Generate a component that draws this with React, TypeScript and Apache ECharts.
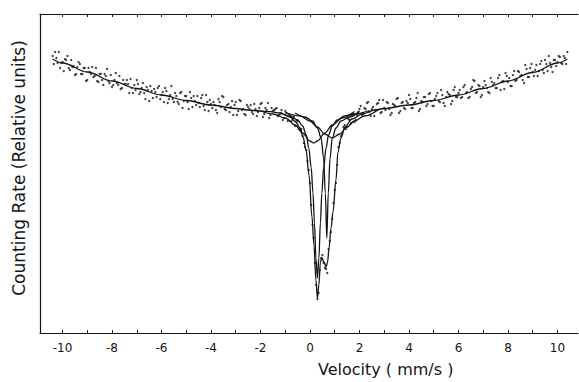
import React, { useEffect, useRef } from "react";
import * as echarts from "echarts";

// Measured counts (relative units). Set A: channels from -10.4 mm/s, set B: from -10.35 mm/s, both in 0.1 mm/s steps
const channelStep = 0.1;
const channelStartA = -10.4;
const countsMeasuredA: number[] = [
  277, 281, 270, 265, 271, 274, 277, 263, 266, 258,
  266, 269, 259, 265, 253, 261, 266, 257, 252, 259,
  253, 259, 264, 250, 246, 253, 250, 257, 245, 249,
  253, 240, 245, 248, 253, 239, 245, 240, 246, 232,
  242, 244, 236, 247, 238, 231, 242, 234, 247, 231,
  237, 229, 241, 232, 237, 224, 235, 237, 228, 230,
  235, 227, 238, 222, 229, 231, 223, 234, 226, 236,
  223, 229, 226, 218, 231, 222, 232, 224, 218, 226,
  228, 219, 224, 221, 229, 216, 225, 230, 218, 222,
  224, 217, 219, 213, 222, 212, 217, 214, 207, 212,
  203, 197, 186, 172, 150, 108, 70, 34, 63, 78,
  65, 60, 92, 114, 143, 168, 190, 199, 208, 206,
  213, 217, 211, 218, 224,
  218, 225, 230, 221, 224, 217, 229, 233, 221, 225,
  231, 224, 220, 228, 234, 220, 230, 225, 232, 238,
  225, 230, 235, 222, 232, 236, 227, 239, 232, 227,
  237, 232, 243, 230, 236, 239, 229, 243, 236, 240,
  235, 246, 240, 235, 244, 253, 240, 248, 236, 246,
  248, 241, 255, 248, 245, 255, 243, 252, 260, 251,
  247, 258, 252, 262, 257, 253, 268, 256, 265, 261,
  263, 257, 269, 263, 273, 262, 270, 261, 273, 271,
  276, 269, 275, 281,
];
const channelStartB = -10.35;
const countsMeasuredB: number[] = [
  269, 275, 281, 270, 262, 273, 265, 273, 267, 259,
  271, 259, 265, 252, 265, 259, 256, 265, 251, 259,
  248, 257, 252, 258, 248, 260, 248, 244, 253, 249,
  249, 254, 240, 243, 249, 241, 250, 234, 243, 247,
  235, 241, 245, 234, 241, 245, 230, 238, 234, 240,
  231, 240, 225, 237, 231, 241, 226, 232, 237, 226,
  238, 223, 231, 233, 225, 228, 220, 231, 237, 224,
  228, 221, 232, 228, 218, 233, 223, 219, 228, 224,
  221, 229, 217, 225, 230, 219, 223, 215, 225, 223,
  225, 218, 223, 215, 220, 219, 212, 216, 213, 204,
  204, 190, 183, 163, 128, 95, 48, 40, 75, 70,
  64, 84, 101, 130, 150, 186, 197, 206, 204, 214,
  210, 219, 213, 221,
  227, 219, 224, 231, 217, 226, 223, 230, 220, 233,
  223, 230, 218, 229, 227, 235, 222, 231, 224, 230,
  234, 225, 231, 240, 224, 231, 236, 229, 240, 227,
  234, 240, 231, 238, 227, 241, 238, 232, 246, 236,
  243, 236, 248, 241, 236, 246, 252, 241, 247, 238,
  252, 245, 240, 251, 250, 245, 258, 251, 244, 257,
  255, 247, 262, 253, 261, 258, 250, 264, 256, 269,
  257, 268, 262, 272, 260, 269, 277, 266, 273, 267,
  277, 270, 277, 269,
];

// Background (non-resonant) count level
const baselineFit: [number, number][] = [
  [-10.4, 274], [-10, 270], [-9, 261], [-8, 252], [-7, 244.5], [-6, 238],
  [-5, 232.5], [-4, 228], [-3, 224.5], [-2.5, 223], [-2, 222], [-1.6, 221.3],
];
const baselineFitRight: [number, number][] = [
  [2.63, 223], [3, 224.5], [4, 228], [5, 232.5], [6, 238], [7, 244.5],
  [8, 252], [9, 260.5], [10, 270], [10.4, 274],
];

// Total fitted envelope in the absorption region
const totalFit: [number, number][] = [
  [-1.6, 221.3], [-1.21, 220], [-0.81, 216], [-0.57, 211], [-0.4, 205], [-0.28, 196],
  [-0.16, 183], [-0.04, 158], [0.08, 116], [0.16, 88], [0.24, 53], [0.3, 35],
  [0.36, 48], [0.42, 71], [0.48, 75], [0.57, 71], [0.65, 66], [0.71, 71],
  [0.77, 85], [0.85, 105], [0.93, 121], [1.05, 153], [1.13, 181], [1.25, 195],
  [1.41, 206], [1.7, 214], [2.1, 219], [2.63, 223],
];

// Sub-spectra components
const componentA: [number, number][] = [
  [-1.2, 220.5], [-0.8, 217], [-0.5, 213], [-0.3, 207], [-0.15, 198], [-0.05, 185],
  [0.05, 165], [0.12, 140], [0.18, 110], [0.24, 75], [0.3, 55], [0.36, 75],
  [0.42, 110], [0.48, 140], [0.55, 165], [0.65, 185], [0.75, 198], [0.9, 207],
  [1.1, 213], [1.4, 217], [1.8, 221.5],
];
const componentB: [number, number][] = [
  [-0.6, 220], [-0.2, 216], [0.1, 212], [0.3, 205], [0.45, 195], [0.55, 175],
  [0.62, 140], [0.68, 95], [0.74, 140], [0.81, 175], [0.9, 195], [1.05, 205],
  [1.25, 212], [1.6, 216], [2.0, 222],
];
const componentC: [number, number][] = [
  [-2.0, 222], [-1.5, 219], [-1.0, 215], [-0.6, 208], [-0.3, 200], [0, 192],
  [0.15, 190], [0.3, 192], [0.6, 200], [0.9, 208], [1.3, 215], [1.8, 219], [2.4, 222.5],
];
const componentD: [number, number][] = [
  [-1.0, 220.5], [-0.4, 217], [0, 212], [0.3, 206], [0.6, 199], [0.9, 195],
  [1.2, 199], [1.5, 206], [1.8, 212], [2.2, 217], [2.8, 224],
];

const majorTicks = [-10, -8, -6, -4, -2, 0, 2, 4, 6, 8, 10];
const minorTicks = [-10, -9, -8, -7, -6, -5, -4, -3, -2, -1, 0, 1, 2, 3, 4, 5, 6, 7, 8, 9, 10];

const INK = "#141414";

export default function App() {
  const ref = useRef<HTMLDivElement>(null);
  useEffect(() => {
    if (!ref.current) return;
    const chart = echarts.init(ref.current, null, { renderer: "svg" });
    const toPoints = (start: number, values: number[]) =>
      values.map((v, i) => [Math.round((start + i * channelStep) * 100) / 100, v]);
    const scatterData = [
      ...toPoints(channelStartA, countsMeasuredA),
      ...toPoints(channelStartB, countsMeasuredB),
    ];
    const totalWithBase = [...baselineFit.slice(0, -1), ...totalFit, ...baselineFitRight.slice(1)];
    const lineStyle = { color: INK, width: 1.3 };
    const lineSeries = (data: [number, number][]) => ({
      type: "line",
      data,
      showSymbol: false,
      smooth: 0.35,
      smoothMonotone: "x",
      lineStyle,
      z: 3,
    });
    const fontFamily = "'DejaVu Sans', sans-serif";
    chart.setOption({
      animation: false,
      backgroundColor: "#fff",
      grid: { left: 40, right: 1, top: 14, bottom: 49 },
      xAxis: [
        {
          type: "value",
          min: -10.91,
          max: 10.83,
          axisLine: { show: true, onZero: false, lineStyle: { color: INK, width: 1.2 } },
          axisTick: { show: true, inside: true, length: 3, customValues: minorTicks, lineStyle: { color: INK } },
          axisLabel: {
            customValues: majorTicks,
            color: INK,
            fontSize: 12,
            fontFamily,
            margin: 9,
          },
          splitLine: { show: false },
        },
        {
          type: "value",
          position: "top",
          min: -10.91,
          max: 10.83,
          axisLine: { show: true, onZero: false, lineStyle: { color: INK, width: 1.2 } },
          axisTick: { show: true, inside: true, length: 3, customValues: minorTicks, lineStyle: { color: INK } },
          axisLabel: { show: false },
          splitLine: { show: false },
        },
      ],
      yAxis: {
        type: "value",
        min: 0,
        max: 319,
        axisLine: { show: true, onZero: false, lineStyle: { color: INK, width: 1.2 } },
        axisTick: { show: false },
        axisLabel: { show: false },
        splitLine: { show: false },
      },
      graphic: [
        {
          type: "text",
          left: 318,
          top: 361,
          style: { text: "Velocity ( mm/s )", fill: INK, font: `16px ${fontFamily}` },
        },
        {
          type: "text",
          x: 19,
          y: 168,
          rotation: Math.PI / 2,
          style: {
            text: "Counting Rate (Relative units)",
            fill: INK,
            font: `17px ${fontFamily}`,
            align: "center",
            verticalAlign: "middle",
          },
        },
      ],
      series: [
        {
          type: "scatter",
          data: scatterData,
          symbol: "circle",
          symbolSize: 2.3,
          itemStyle: { color: INK },
          z: 4,
        },
        lineSeries(totalWithBase),
        lineSeries(componentA),
        lineSeries(componentB),
        lineSeries(componentC),
        lineSeries(componentD),
      ],
    });
    return () => chart.dispose();
  }, []);
  return <div ref={ref} style={{ width: 579, height: 382, position: "absolute", left: 0, top: 0 }} />;
}
